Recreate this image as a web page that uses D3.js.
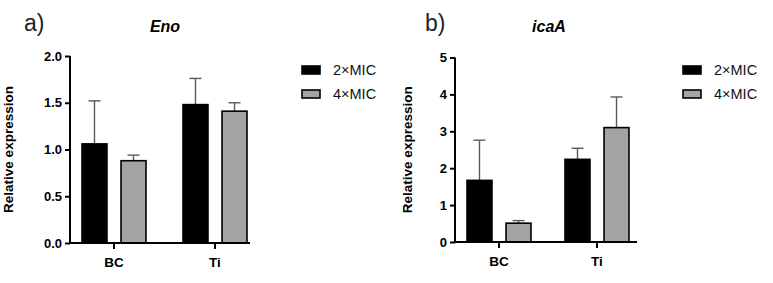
<!DOCTYPE html>
<html>
<head>
<meta charset="utf-8">
<script src="https://cdn.jsdelivr.net/npm/d3@7"></script>
<style>
  body { margin: 0; background: #fff; }
  svg { font-family: "Liberation Sans", Arial, sans-serif; }
</style>
</head>
<body>
<div id="chart"></div>
<script>
// 数据
const groups = ['BC', 'Ti'];
const series = ['2×MIC', '4×MIC'];
const seriesColors = ['#000000', '#a3a3a6'];

const enoMean = [[1.06, 0.88], [1.48, 1.41]];
const enoErr = [[1.52, 0.94], [1.76, 1.50]];
const enoTicks = [0, 0.5, 1.0, 1.5, 2.0];

const icaMean = [[1.67, 0.51], [2.24, 3.10]];
const icaErr = [[2.76, 0.58], [2.54, 3.93]];
const icaTicks = [0, 1, 2, 3, 4, 5];

const svg = d3.select('#chart')
  .append('svg')
  .attr('width', 773)
  .attr('height', 283);

// 画一个面板
function drawPanel(cfg) {
  const { axisX, axisRight, yTop, yBottom, yMax, ticks, tickFmt, means, errs,
          letter, letterX, title, titleX, labelX, groupStart, groupStep, legendX } = cfg;

  const g = svg.append('g');

  const y = d3.scaleLinear().domain([0, yMax]).range([yBottom, yTop]);
  const x0 = d3.scaleBand().domain(groups)
    .range([groupStart, groupStart + groupStep * groups.length]);
  const x1 = d3.scaleBand().domain(series).range([-32, 32]).paddingInner(0.36);

  // 柱子
  groups.forEach((grp, gi) => {
    const cx = x0(grp) + x0.bandwidth() / 2;
    series.forEach((s, si) => {
      const bx = cx + x1(s);
      const v = means[gi][si];
      // 误差线
      const ex = bx + x1.bandwidth() / 2;
      g.append('line')
        .attr('x1', ex).attr('x2', ex)
        .attr('y1', y(v)).attr('y2', y(errs[gi][si]))
        .style('stroke', '#5a5a5a').style('stroke-width', 1.4);
      g.append('line')
        .attr('x1', ex - 6).attr('x2', ex + 6)
        .attr('y1', y(errs[gi][si])).attr('y2', y(errs[gi][si]))
        .style('stroke', '#5a5a5a').style('stroke-width', 1.4);
      g.append('rect')
        .attr('x', bx)
        .attr('y', y(v))
        .attr('width', x1.bandwidth())
        .attr('height', y(0) - y(v))
        .style('fill', seriesColors[si])
        .style('stroke', '#000')
        .style('stroke-width', 1.6);
    });
  });

  // y 轴
  const yAxis = g.append('g')
    .attr('transform', `translate(${axisX},0)`)
    .call(d3.axisLeft(y).tickValues(ticks).tickFormat(d3.format(tickFmt)).tickSize(5).tickSizeOuter(0).tickPadding(3));
  yAxis.select('.domain').style('stroke-width', 2).attr('d', `M0,${yTop}V${yBottom}`);
  yAxis.selectAll('.tick line').style('stroke-width', 2);
  yAxis.selectAll('.tick text')
    .style('font-size', '13px').style('font-weight', 'bold').attr('fill', '#000');

  // x 轴
  g.append('line')
    .attr('x1', axisX - 1).attr('x2', axisRight)
    .attr('y1', yBottom).attr('y2', yBottom)
    .style('stroke', '#000').style('stroke-width', 2);
  groups.forEach(grp => {
    const cx = x0(grp) + x0.bandwidth() / 2;
    g.append('line')
      .attr('x1', cx).attr('x2', cx)
      .attr('y1', yBottom).attr('y2', yBottom + 6)
      .style('stroke', '#000').style('stroke-width', 2);
    g.append('text')
      .attr('x', cx).attr('y', yBottom + 24)
      .attr('text-anchor', 'middle')
      .style('font-size', '13.5px').style('font-weight', 'bold')
      .text(grp);
  });

  // y 轴标签
  g.append('text')
    .attr('transform', `translate(${labelX},${(yTop + yBottom) / 2}) rotate(-90)`)
    .attr('text-anchor', 'middle')
    .style('font-size', '13.5px').style('font-weight', 'bold')
    .text('Relative expression');

  // 字母和标题
  g.append('text')
    .attr('x', letterX).attr('y', 31)
    .style('font-size', '23px').attr('fill', '#222')
    .text(letter);
  g.append('text')
    .attr('x', titleX).attr('y', 32)
    .attr('text-anchor', 'middle')
    .style('font-size', '16px').style('font-weight', 'bold').style('font-style', 'italic')
    .text(title);

  // 图例
  series.forEach((s, si) => {
    g.append('rect')
      .attr('x', legendX).attr('y', 66 + si * 24)
      .attr('width', 18).attr('height', 8)
      .style('fill', seriesColors[si]).style('stroke', '#000').style('stroke-width', 1.6);
    g.append('text')
      .attr('x', legendX + 31).attr('y', 75 + si * 24)
      .style('font-size', '14.5px').attr('fill', '#111')
      .text(s);
  });
}

drawPanel({
  axisX: 70, axisRight: 250, yTop: 56, yBottom: 243, yMax: 2.0,
  ticks: enoTicks, tickFmt: '.1f', means: enoMean, errs: enoErr,
  letter: 'a)', letterX: 24, title: 'Eno', titleX: 165, labelX: 13,
  groupStart: 63.5, groupStep: 101, legendX: 302
});

drawPanel({
  axisX: 455, axisRight: 637, yTop: 57.5, yBottom: 242, yMax: 5,
  ticks: icaTicks, tickFmt: 'd', means: icaMean, errs: icaErr,
  letter: 'b)', letterX: 425, title: 'icaA', titleX: 549, labelX: 412,
  groupStart: 450, groupStep: 98, legendX: 683
});
</script>
</body>
</html>
